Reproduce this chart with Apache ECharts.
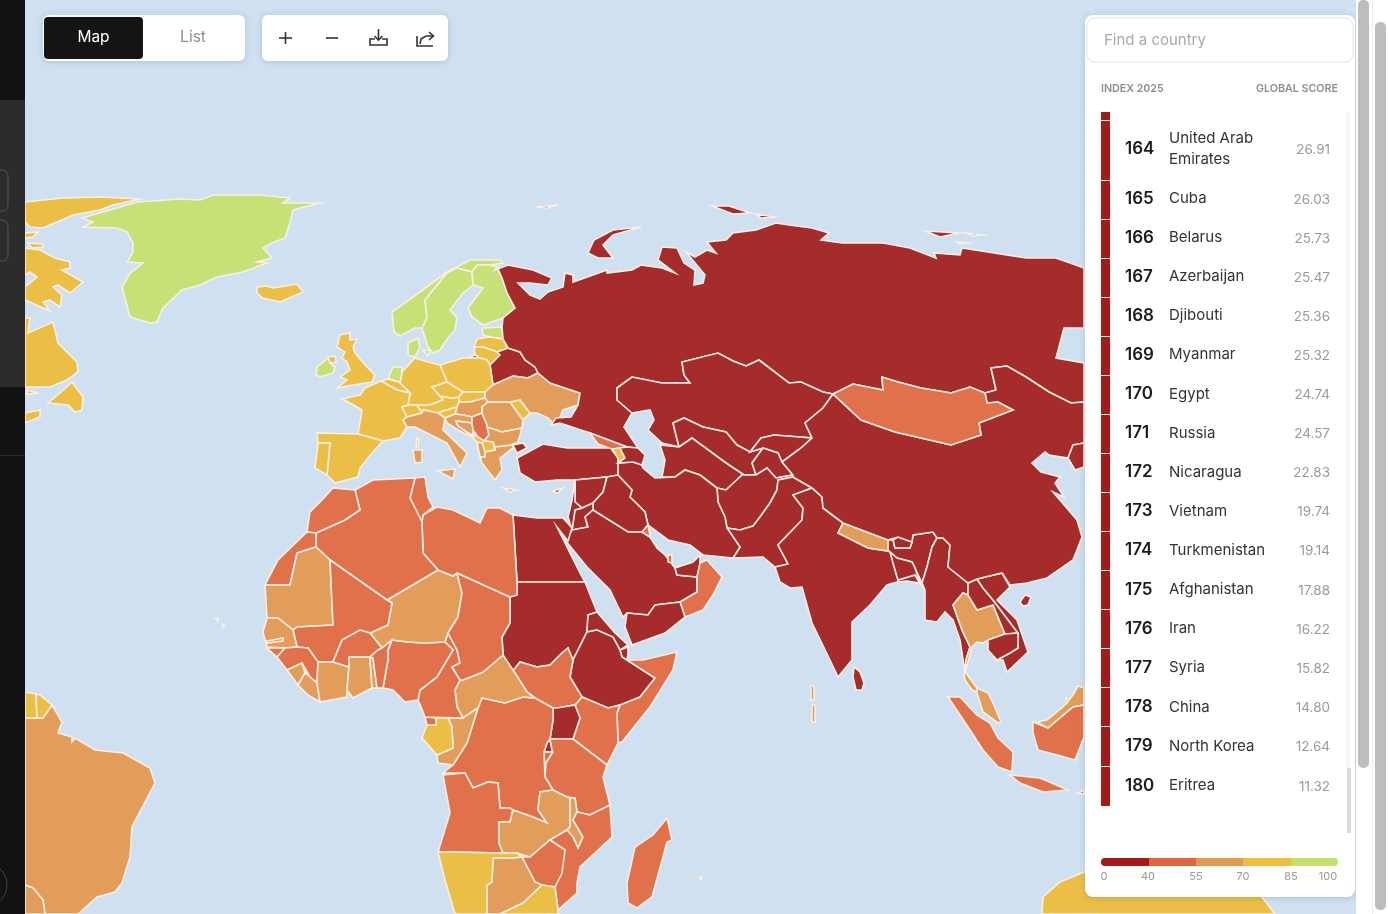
<!DOCTYPE html>
<html>
<head>
<meta charset="utf-8">
<title>Index 2025</title>
<style>html,body{margin:0;padding:0;background:#cfe1f0}#main{width:1388px;height:914px}</style>
<script src="https://cdn.jsdelivr.net/npm/echarts@6/dist/echarts.min.js"></script>
</head>
<body>
<div id="main"></div>
<script>
// ranking shown in the side panel
var ranks = [164,165,166,167,168,169,170,171,172,173,174,175,176,177,178,179,180];
var names = ['United Arab Emirates','Cuba','Belarus','Azerbaijan','Djibouti','Myanmar','Egypt','Russia','Nicaragua','Vietnam','Turkmenistan','Afghanistan','Iran','Syria','China','North Korea','Eritrea'];
var scores = [26.91,26.03,25.73,25.47,25.36,25.32,24.74,24.57,22.83,19.74,19.14,17.88,16.22,15.82,14.80,12.64,11.32];
var rowY = [149,198.5,237.5,276.5,315.5,354.5,394,433,472,511,550,589.5,628.5,667.5,707,746,785.5];

// legend
var legendStops = [0,40,55,70,85,100];
var legendColors = ['#a31b18','#e0663f','#e39a4e','#edbe3f','#c2e06b'];
var mapColors = ['#a52c2b','#e0714b','#e19d59','#ebbe46','#c6e276'];

// score bands of the other countries, estimated from the map colours
var darkCountries = {'Kazakhstan':29,'Uzbekistan':32,'Kyrgyzstan':36,'Tajikistan':29,'Pakistan':33,'India':32,'Bangladesh':33,'Bhutan':37,'Laos':27,'Cambodia':33,'Turkey':31,'Iraq':29,'Jordan':38,'Levant':35,'Saudi Arabia':27,'Yemen':28,'Sudan':29,'Ethiopia':30,'Uganda':35,'Rwanda':30,'Sri Lanka':38,'Kaliningrad':24,'Brunei':38};
var redCountries = {'Georgia':50,'Mongolia':52,'Kuwait':48,'Qatar':50,'Oman':46,'Serbia':52,'Algeria':41,'Tunisia':48,'Libya':44,'Morocco':46,'Western Sahara':42,'Mali':48,'Chad':46,'Nigeria':46,'Cameroon':43,'Equatorial Guinea':44,'Burkina Faso':50,'Benin':52,'Guinea':50,'Guinea-Bissau':50,'South Sudan':42,'DR Congo':44,'Burundi':42,'Tanzania':52,'Kenya':49,'Somalia':43,'Angola':50,'Mozambique':50,'Zimbabwe':50,'Madagascar':53,'Indonesia':44};
var orangeCountries = {'Ukraine':62,'Romania':68,'Bulgaria':60,'Hungary':65,'Italy':69,'Croatia':66,'Bosnia':60,'Albania':58,'Greece':56,'Mauritania':62,'Niger':60,'Senegal':64,'Gambia':62,'Sierra Leone':60,'Liberia':61,'Ivory Coast':62,'Ghana':66,'Togo':58,'CAR':56,'Congo':58,'Zambia':62,'Malawi':60,'Botswana':62,'Brazil':63,'Bolivia':58,'Thailand':56,'Nepal':58,'Malaysia':56,'Maldives':60,'Cabo Verde':68,'Seychelles':65};
var yellowCountries = {'Canada':78,'UK':78,'Northern Ireland':78,'Iceland':82,'France':76,'Spain':77,'Portugal':84,'Germany':83,'Poland':75,'Austria':78,'Czechia':81,'Slovakia':72,'Slovenia':74,'Switzerland':83,'Belgium':81,'Latvia':78,'Lithuania':82,'Moldova':73,'North Macedonia':71,'Montenegro':71,'Armenia':72,'Gabon':71,'Namibia':76,'South Africa':75,'Suriname':72,'French Guiana':76,'Australia':77,'Corsica':76};
var greenCountries = {'Greenland':92,'Norway':92,'Sweden':88,'Finland':87,'Denmark':86,'Estonia':89,'Netherlands':88,'Ireland':86};

// outlines, "x,y" per vertex
var outlines = {
'Greenland':['82,218 110,210 137,202 180,199 200,200 213,195 260,195 290,198 283,203 320,203 293,210 290,223 287,232 285,238 272,243 263,248 272,258 257,262 267,263 243,272 217,277 200,285 182,290 163,308 157,322 150,323 130,317 122,287 130,273 143,263 127,262 133,252 133,243 127,232 117,228 83,227 93,222'],
'Iceland':['257,287 267,286 273,288 297,284 303,292 280,302 263,298 257,293'],
'Canada':['25,202 63,198 100,197 140,199 113,205 100,210 73,215 57,222 43,228 30,227 25,222','25,233 38,232 33,237 25,238','28,243 43,244 43,247 32,248','25,248 40,250 55,258 70,262 70,268 62,270 83,282 70,293 58,285 53,287 62,295 60,307 50,300 43,302 50,311 25,300 25,287 37,277 30,272 25,275','25,318 30,318 28,333 53,322 58,343 77,362 78,372 67,380 50,387 25,387','72,382 83,397 82,410 75,412 68,405 48,403 60,393','25,413 40,410 40,417 25,423','27,390 37,393 27,394'],
'Ireland':['317,367 328,358 332,365 335,367 333,373 320,377 316,375'],
'Northern Ireland':['328,357 335,356 336,362 330,363'],
'UK':['340,335 350,333 350,340 357,339 353,347 355,353 367,367 375,375 372,382 353,385 337,388 347,380 340,377 350,370 347,362 342,358 345,352 337,347'],
'Norway':['392,312 413,297 447,272 470,260 500,260 503,263 490,265 477,265 472,272 457,268 447,273 425,300 427,318 422,328 415,328 400,336 394,332'],
'Sweden':['447,273 457,268 472,272 473,285 463,293 450,310 457,318 455,330 448,338 440,350 433,353 428,347 422,328 427,318 425,300'],
'Finland':['477,265 490,265 497,267 502,278 507,293 515,308 503,318 483,325 472,317 468,308 480,292 483,288 473,285 472,272'],
'Denmark':['408,343 418,338 420,347 415,357 408,355','423,350 430,350 428,356'],
'Estonia':['482,328 502,327 503,339 490,337 483,335'],
'Latvia':['474,347 477,339 490,337 503,339 508,348 497,352 483,347'],
'Lithuania':['474,347 483,347 497,352 500,355 490,365 487,360 480,358 475,355'],
'Kaliningrad':['468,358 475,355 480,358'],
'Belarus':['490,365 500,355 497,352 508,348 520,352 525,360 535,367 538,373 528,378 513,376 493,385'],
'Poland':['440,365 463,358 480,358 487,360 490,365 493,385 485,392 463,392 447,382'],
'Germany':['415,358 428,362 440,365 447,382 432,387 440,396 443,400 430,405 417,405 408,405 410,393 400,383 402,372'],
'Netherlands':['388,378 393,367 402,367 402,372 400,383 399,382'],
'Belgium':['381,381 388,379 399,382 400,383 410,393 397,390'],
'France':['342,399 360,395 365,388 381,381 397,390 410,393 408,405 402,407 407,417 403,420 407,427 400,438 383,441 358,434 362,410 350,403'],
'Corsica':['417,438 419,440 418,447 416,447'],
'Switzerland':['402,407 408,405 417,405 422,413 407,417'],
'Austria':['417,405 430,405 443,400 440,396 452,398 459,397 459,402 457,407 443,411 438,413 423,410 422,413'],
'Czechia':['432,387 447,382 463,392 459,397 452,398 440,396'],
'Slovakia':['459,397 463,392 485,392 485,398 470,402 459,402'],
'Hungary':['457,407 459,402 470,402 485,398 488,402 482,407 482,413 472,417 463,415 455,414'],
'Slovenia':['438,413 443,411 457,407 455,414 445,418'],
'Italy':['403,420 407,417 422,413 423,410 438,413 445,418 443,430 467,453 460,467 447,443 427,433 415,427 407,427','438,471 455,469 453,479','413,450 422,450 422,462 415,463'],
'Spain':['317,433 358,434 383,441 372,453 360,468 358,477 335,483 327,475 330,443 318,443'],
'Portugal':['318,443 330,443 327,475 315,468'],
'Croatia':['445,418 455,414 463,415 472,417 472,423 456,421 458,426 470,434 478,437 470,436 458,430 447,423'],
'Bosnia':['456,421 472,423 473,430 473,437 470,434 458,426'],
'Serbia':['472,417 482,413 487,425 489,435 484,441 478,437 473,430 472,423'],
'Romania':['482,407 488,402 510,402 523,420 522,428 502,432 487,427 487,425 482,413'],
'Moldova':['510,402 520,400 530,413 523,420'],
'Bulgaria':['487,427 502,432 522,428 518,442 503,448 495,447 493,442 484,441 489,435'],
'North Macedonia':['484,441 493,442 495,450 485,452 482,443'],
'Albania':['477,442 482,443 485,452 485,457 480,457'],
'Montenegro':['470,434 478,437 484,441 482,443 477,442'],
'Greece':['480,457 485,457 485,452 495,450 495,447 513,445 513,448 500,458 502,470 495,480 482,463','503,488 517,490 510,492'],
'Ukraine':['485,392 493,385 513,376 528,378 538,373 550,383 580,393 578,405 563,410 560,417 555,425 548,418 537,413 530,413 520,400 510,402 488,402 485,398'],
'Russia':['495,270 508,265 533,270 552,278 548,285 530,283 518,283 530,295 540,299 548,292 563,287 565,273 573,275 573,282 607,270 607,273 632,270 641,265 662,268 675,273 658,260 662,247 677,248 684,263 695,270 694,285 703,283 705,275 686,252 695,257 707,250 716,253 707,242 726,240 733,233 756,230 776,223 789,225 812,228 829,233 821,240 842,243 883,243 910,248 936,258 934,253 960,255 962,248 1026,258 1056,258 1084,268 1084,328 1064,328 1056,358 1084,363 1084,402 1071,403 1049,392 1026,377 1007,366 991,368 996,390 985,393 970,387 951,393 921,388 898,382 882,377 883,390 853,384 833,394 823,392 801,382 789,383 759,360 746,366 733,361 718,353 682,362 684,375 690,383 662,383 632,377 617,388 617,400 632,413 624,427 638,448 627,447 590,433 560,423 551,425 556,418 571,417 578,405 580,393 550,383 538,373 535,367 525,360 520,352 508,348 503,339 502,327 503,318 515,308 507,293 502,278 497,267','588,253 594,240 613,230 641,227 613,235 603,245 613,258 598,258','712,206 729,206 750,213 733,214','756,214 774,217 761,218','925,231 959,233 940,237','966,233 983,235 974,236','957,242 968,243 960,244','536,207 558,205 547,208'],
'Kazakhstan':['833,394 823,408 805,423 812,438 774,435 761,438 750,452 737,445 726,432 703,427 684,418 673,423 679,447 662,443 648,430 654,420 650,410 632,413 617,400 617,388 632,377 662,383 690,383 684,375 682,362 718,353 733,361 746,366 759,360 789,383 801,382 823,392'],
'Uzbekistan':['673,423 684,418 703,427 726,432 737,445 750,452 763,448 752,463 756,475 744,475 726,463 692,438 679,447'],
'Turkmenistan':['679,447 692,438 726,463 744,475 742,475 726,490 717,488 700,475 685,470 675,477 662,477 665,460 660,445'],
'Kyrgyzstan':['761,438 774,435 812,438 801,448 782,462 778,453 763,448 750,452'],
'Tajikistan':['752,463 763,448 778,453 782,462 793,475 776,478 767,468 756,475'],
'Afghanistan':['717,488 726,490 742,475 744,475 756,475 767,468 776,478 793,475 793,477 778,480 777,490 770,503 760,517 753,526 740,530 727,528 725,517 718,502'],
'Pakistan':['727,528 740,530 753,526 760,517 770,503 777,490 778,480 793,477 812,488 793,495 803,508 802,520 778,545 788,564 775,567 763,557 733,558 740,547'],
'Iran':['618,463 633,462 642,465 643,468 655,478 675,477 685,470 700,475 717,488 718,502 725,517 727,528 740,547 733,558 703,555 690,545 668,540 648,525 645,512 630,497 632,490 618,475'],
'Turkey':['517,458 532,450 543,444 567,448 587,448 612,448 612,450 618,458 618,475 607,477 575,480 557,480 535,482 520,473','513,445 523,443 527,448 517,453'],
'Georgia':['590,433 627,447 620,448 612,449 598,444'],
'Armenia':['612,449 620,448 625,458 618,463 618,458'],
'Azerbaijan':['627,447 638,448 645,455 642,465 633,462 618,463 625,458 620,448'],
'Syria':['575,480 607,477 603,492 593,503 582,508 575,502','553,491 563,488 557,493'],
'Iraq':['607,477 618,475 632,490 630,497 645,512 648,525 642,532 628,532 593,510 593,503 603,492'],
'Jordan':['575,510 582,508 593,503 593,510 585,517 588,527 572,530'],
'Levant':['575,480 575,502 582,508 575,510 572,530 568,517 572,500'],
'Saudi Arabia':['572,530 588,527 585,517 593,510 628,532 642,532 650,537 657,548 665,555 675,568 677,575 697,577 697,592 680,602 655,605 648,615 627,613 623,617 610,590 587,567 565,540'],
'Kuwait':['642,532 648,525 650,535 650,537'],
'Qatar':['668,555 672,555 672,563 668,562'],
'United Arab Emirates':['675,568 693,562 700,555 700,565 697,577 677,575'],
'Oman':['700,563 707,560 722,577 713,595 703,610 685,617 680,602 697,592 697,577'],
'Yemen':['627,613 648,615 655,605 680,602 685,617 665,633 632,645 625,627'],
'Egypt':['513,515 537,518 563,518 572,528 568,541 557,527 580,573 585,582 517,582'],
'Sudan':['517,582 585,582 597,612 588,615 587,632 573,660 568,648 562,653 550,665 537,667 520,662 512,672 503,655 502,637 510,623 510,597 517,595'],
'Eritrea':['588,615 597,612 615,633 628,645 620,650 613,637 597,630 587,632'],
'Djibouti':['620,650 628,647 628,655 627,660 622,657'],
'Ethiopia':['587,632 597,630 613,637 620,650 622,657 627,660 655,678 640,697 620,705 608,708 582,697 570,677 573,660'],
'Somalia':['627,660 643,660 677,652 673,670 650,707 622,742 618,743 617,713 620,705 640,697 655,678'],
'Kenya':['582,697 608,708 620,705 617,713 618,743 607,765 573,739 580,718 575,705'],
'South Sudan':['512,672 520,662 537,667 550,665 562,653 568,648 573,660 570,677 582,697 575,705 557,708 553,708 535,698 527,692 515,673'],
'Uganda':['553,708 557,708 575,705 580,718 573,739 550,739 553,720'],
'Rwanda':['544,752 547,743 550,739 552,750 553,752'],
'Burundi':['544,752 553,752 546,763 545,772'],
'Tanzania':['550,739 573,739 607,765 603,777 610,805 590,815 577,812 575,798 567,797 553,790 545,777 546,763 553,752 552,750'],
'DR Congo':['482,698 505,703 523,697 535,698 553,708 553,720 550,739 547,743 544,752 545,777 553,790 540,792 538,810 547,823 533,817 513,810 510,808 500,808 498,783 488,782 473,788 465,773 443,773 453,765 467,743 478,708'],
'CAR':['455,690 460,680 463,680 483,672 503,655 515,673 527,692 535,698 523,697 505,703 482,698 478,708 463,718 457,707'],
'Congo':['448,718 463,718 478,708 467,743 453,765 438,763 437,755 453,748 452,727'],
'Gabon':['436,718 448,718 452,727 453,748 437,755 422,738 427,725 436,725'],
'Equatorial Guinea':['425,717 436,718 436,725 427,725'],
'Cameroon':['445,642 453,650 437,677 420,690 418,700 419,702 425,717 463,718 457,707 455,690 460,680 452,667 460,663 457,650 448,633'],
'Nigeria':['392,640 408,642 425,643 445,642 453,650 437,677 420,690 418,700 405,702 393,690 383,688 388,660 388,650'],
'Niger':['387,600 438,570 453,576 457,573 462,593 458,617 448,633 445,642 425,643 408,642 392,640 382,648 370,633 388,625 392,603'],
'Chad':['457,573 510,597 510,623 502,637 503,655 483,672 463,680 460,680 452,667 460,663 457,650 448,633 458,617 462,593'],
'Libya':['423,515 437,507 453,510 480,523 487,508 500,508 513,515 517,582 517,595 510,597 457,573 453,576 438,570 423,553 422,522'],
'Tunisia':['415,478 425,477 428,497 433,507 423,515 422,522 410,498'],
'Algeria':['355,490 373,480 415,478 410,498 422,522 423,553 438,570 387,600 330,560 316,547 316,533 345,520 360,510'],
'Morocco':['333,488 355,490 360,510 345,520 316,533 307,532 310,512 322,500'],
'Western Sahara':['307,532 316,533 316,547 297,553 290,585 265,585 278,560'],
'Mauritania':['265,585 290,585 297,553 316,547 330,560 333,625 297,627 293,630 278,618 267,618'],
'Mali':['330,560 387,600 392,603 388,625 370,633 360,630 342,640 333,662 318,662 308,648 297,647 293,630 297,627 333,625'],
'Senegal':['263,632 267,618 278,618 293,630 297,647 285,648 267,647'],
'Gambia':['267,641 283,638 283,641 267,643'],
'Guinea-Bissau':['267,648 285,648 277,657'],
'Guinea':['277,657 285,648 297,647 308,648 318,662 317,683 310,677 302,663 287,670'],
'Sierra Leone':['287,670 302,663 305,673 298,685'],
'Liberia':['298,685 305,673 310,677 317,683 320,702 308,695'],
'Ivory Coast':['318,662 333,662 349,667 347,690 347,697 320,702 317,683'],
'Burkina Faso':['333,662 342,640 360,630 370,633 382,648 378,650 370,657 349,657 349,667'],
'Ghana':['349,657 370,657 372,688 353,698 347,690 349,667'],
'Togo':['370,657 373,658 377,688 372,688'],
'Benin':['370,657 378,650 382,648 392,640 388,650 388,660 383,688 377,688 373,658'],
'Angola':['443,775 465,773 473,788 488,782 498,783 500,808 510,808 513,810 510,822 499,822 499,843 503,853 450,852 438,852 450,813'],
'Zambia':['540,792 553,790 567,797 570,798 570,827 567,830 550,840 530,857 517,853 503,853 499,843 499,822 510,822 513,810 533,817 547,823 538,810'],
'Malawi':['570,798 575,798 577,812 573,820 583,837 578,848 573,837 567,830 570,827'],
'Mozambique':['610,805 612,837 580,867 577,883 577,893 558,910 555,887 565,850 550,840 567,830 573,837 578,848 583,837 573,820 577,812 590,815'],
'Zimbabwe':['522,857 530,857 550,840 565,850 562,873 555,887 542,885 535,882'],
'Botswana':['493,858 510,858 522,857 535,882 542,885 523,903 500,914 487,914 487,885 492,882'],
'Namibia':['438,852 450,852 503,853 517,853 522,857 510,858 493,858 492,882 487,885 487,914 455,914 445,880'],
'South Africa':['500,914 523,903 542,885 555,887 558,910 558,914'],
'Madagascar':['667,818 672,840 667,842 652,897 637,908 628,903 627,883 635,847 653,835'],
'Maldives':['811,686 814,686 814,700 811,700','812,705 815,705 815,722 812,722'],
'Cabo Verde':['215,618 218,618 218,621','222,624 225,625 223,628'],
'Seychelles':['699,877 702,877 701,880'],
'Sri Lanka':['854,667 860,672 864,683 862,690 856,690 853,677'],
'India':['793,495 812,488 822,497 823,508 843,523 838,533 868,548 888,551 890,552 897,558 893,563 898,580 908,577 915,575 920,583 913,582 907,581 897,582 887,585 870,605 852,622 852,660 838,677 830,660 812,623 802,587 790,588 780,582 775,567 788,564 778,545 802,520 803,508','888,551 888,540 893,540 895,548 910,548 912,542 913,535 933,532 937,538 932,547 927,567 922,583 915,568 912,562 897,558 890,552'],
'Bangladesh':['890,552 897,558 912,562 915,568 920,583 915,575 908,577 898,580 893,563'],
'Bhutan':['893,540 898,537 912,542 910,548 895,548'],
'Nepal':['838,533 843,523 888,540 888,551 868,548'],
'Myanmar':['932,547 937,538 943,538 950,545 948,567 968,583 968,595 963,593 953,605 962,630 970,647 966,660 965,672 960,640 953,620 945,612 937,622 925,620 925,590 922,583 927,567'],
'Thailand':['953,605 963,593 968,595 977,610 993,605 1005,634 988,640 983,643 977,642 972,647 968,662 965,672 977,688 983,694 972,690 965,680 964,675 966,660 970,647 962,630'],
'Malaysia':['977,688 988,693 993,703 1001,722 998,723 983,712 977,693','1037,722 1047,720 1063,707 1073,695 1078,686 1084,688 1084,705 1073,707 1048,728'],
'Laos':['968,583 977,579 983,588 993,600 1018,633 1005,634 993,605 977,610 968,595'],
'Vietnam':['977,579 1002,573 1010,587 997,600 1017,620 1028,652 1007,672 1003,660 997,660 1010,653 1018,648 1018,633 993,600 983,588'],
'Cambodia':['988,640 1005,634 1018,633 1018,648 1010,653 997,660 988,650'],
'China':['833,394 861,420 895,432 951,445 981,435 979,423 1013,410 998,402 987,403 985,393 996,390 991,368 1007,366 1026,377 1049,392 1071,403 1084,402 1084,443 1073,445 1068,458 1049,455 1045,452 1032,463 1041,472 1060,477 1055,483 1064,497 1053,492 1077,520 1082,537 1073,560 1047,578 1027,583 1010,585 1002,573 977,579 968,583 948,567 950,545 943,538 937,538 933,532 913,535 912,542 898,537 888,540 843,523 823,508 822,497 812,488 793,477 793,475 782,462 801,448 812,438 805,423 823,408','1020,602 1025,595 1031,597 1028,605 1023,606'],
'North Korea':['1084,443 1073,445 1068,458 1075,470 1084,467'],
'Mongolia':['833,394 853,384 883,390 882,377 898,382 921,388 951,393 970,387 985,393 987,403 998,402 1013,410 979,423 981,435 951,445 895,432 861,420'],
'Indonesia':['948,697 960,697 977,715 990,723 998,738 1013,752 1012,772 998,767 983,750 970,730','1010,775 1040,778 1068,790 1043,792 1020,783','1033,722 1048,728 1073,707 1084,705 1084,737 1075,760 1057,755 1038,750 1033,733','1078,793 1084,790 1084,794'],
'Brunei':['1066,698 1069,700 1067,703'],
'Brazil':['25,718 43,718 52,705 62,722 58,733 72,737 72,742 75,738 95,750 123,753 150,768 155,783 132,827 130,857 122,883 115,892 97,897 78,914 45,914 43,900 33,888 25,885'],
'Bolivia':['25,885 33,888 43,900 45,914 25,914'],
'Suriname':['25,692 36,694 37,718 25,718'],
'French Guiana':['36,694 40,695 52,705 43,718 37,718'],
'Australia':['1042,914 1043,897 1060,882 1084,872 1200,860 1262,897 1275,914']
};

function toFeature(name) {
    var polys = outlines[name].map(function (ring) {
        var pts = ring.split(' ').map(function (p) { return p.split(',').map(Number); });
        pts.push(pts[0]);
        return [pts];
    });
    return { type: 'Feature', properties: { name: name }, geometry: { type: 'MultiPolygon', coordinates: polys } };
}
echarts.registerMap('world', { type: 'FeatureCollection', features: Object.keys(outlines).map(toFeature) });

var mapData = [];
names.forEach(function (n, i) { mapData.push({ name: n, value: scores[i] }); });
[darkCountries, redCountries, orangeCountries, yellowCountries, greenCountries].forEach(function (group) {
    Object.keys(group).forEach(function (n) { mapData.push({ name: n, value: group[n] }); });
});

var pieces = mapColors.map(function (c, i) { return { min: legendStops[i], max: legendStops[i + 1], color: c }; });

// page furniture around the map
var els = [];
function rect(x, y, w, h, fill, r, extra) {
    els.push({ type: 'rect', z: 100, shape: { x: x, y: y, width: w, height: h, r: r || 0 }, style: Object.assign({ fill: fill }, extra || {}) });
}
function text(str, x, y, font, fill, align) {
    els.push({ type: 'text', z: 110, style: { text: str, x: x, y: y, font: font, fill: fill, align: align || 'left', verticalAlign: 'middle' } });
}
function line(points, color, w) {
    els.push({ type: 'polyline', z: 110, shape: { points: points }, style: { stroke: color, lineWidth: w || 1.6, fill: null } });
}
var FONT = 'Inter, "Liberation Sans", sans-serif';
var card = { shadowBlur: 6, shadowColor: 'rgba(60,80,110,0.22)', shadowOffsetY: 1 };

// left rail
rect(0, 0, 25, 914, '#121212');
rect(0, 100, 25, 287, '#2c2c2c');
rect(0, 455, 25, 1, '#2e2e2e');
rect(-20, 170, 28, 41, 'transparent', 6, { stroke: '#555', lineWidth: 1 });
rect(-20, 220, 28, 41, 'transparent', 6, { stroke: '#555', lineWidth: 1 });
els.push({ type: 'circle', z: 110, shape: { cx: -15, cy: 885, r: 22 }, style: { fill: 'transparent', stroke: '#444', lineWidth: 1 } });

// toolbar
rect(43, 15, 202, 46, '#fff', 6, card);
rect(44, 17, 99, 42, '#141414', 4);
text('Map', 93.5, 37.5, '15.5px ' + FONT, '#fff', 'center');
text('List', 193, 37.5, '15.5px ' + FONT, '#8e8e8e', 'center');
rect(262, 15, 186, 46, '#fff', 6, card);
line([[279, 38], [292, 38]], '#333');
line([[285.5, 32], [285.5, 44]], '#333');
line([[326, 38], [338, 38]], '#333');
line([[375, 39], [370, 39], [370, 45], [387, 45], [387, 39], [382, 39]], '#333');
line([[378.5, 29], [378.5, 40]], '#333');
line([[374.5, 36], [378.5, 40], [382.5, 36]], '#333');
line([[417, 36], [417, 46], [433, 46]], '#333');
line([[420, 44], [421, 39], [426, 36], [433, 36]], '#333');
line([[429, 32], [433.5, 36], [429, 40]], '#333');

// side panel
rect(1085, 15, 270, 882, '#fff', 8, card);
rect(1087, 18, 266, 44, '#fff', 8, { stroke: '#dfe3e6', lineWidth: 1 });
text('Find a country', 1104, 40.5, '15px ' + FONT, '#a9a9a9');
text('INDEX 2025', 1101, 88.5, '600 10.7px ' + FONT, '#8d8d8d');
text('GLOBAL SCORE', 1338, 88.5, '600 10.7px ' + FONT, '#8d8d8d', 'right');
rect(1346, 112, 4, 720, '#f7f7f7');
rect(1347, 768, 4, 65, '#dcdcdc');

// ranking rows
var stripTop = [112, 121, 181, 220, 259, 298, 337, 376, 415, 454, 493, 532, 571, 610, 649, 688, 727, 767];
var stripBottom = [120, 180, 219, 258, 297, 336, 375, 414, 453, 492, 531, 570, 609, 648, 687, 726, 766, 806];
stripTop.forEach(function (t, i) { rect(1101, t, 9, stripBottom[i] - t, legendColors[0]); });
ranks.forEach(function (r, i) {
    var y = rowY[i];
    text(String(r), 1125, y, '600 17px ' + FONT, '#1c1c1c');
    if (names[i] === 'United Arab Emirates') {
        text('United Arab', 1169, 138.5, '15px ' + FONT, '#333');
        text('Emirates', 1169, 159.5, '15px ' + FONT, '#333');
    } else {
        text(names[i], 1169, y, '15px ' + FONT, '#333');
    }
    text(scores[i].toFixed(2), 1330, y + 1, '13.5px ' + FONT, '#9a9a9a', 'right');
});

// colour legend
var legendX = [1101, 1149, 1196, 1243, 1291, 1338];
legendColors.forEach(function (c, i) {
    var r = i === 0 ? [4, 0, 0, 4] : (i === 4 ? [0, 4, 4, 0] : 0);
    rect(legendX[i], 858, legendX[i + 1] - legendX[i], 8, c, r);
});
var labelX = [1104, 1148, 1196, 1243, 1291, 1328];
legendStops.forEach(function (s, i) { text(String(s), labelX[i], 876.5, '11px ' + FONT, '#999', 'center'); });

// browser scrollbars
rect(1356, 0, 32, 914, '#fff');
rect(1372, 0, 1, 914, '#ededed');
rect(1358, 0, 11, 768, '#bdbdbd', 5);
rect(1375, 22, 11, 888, '#bdbdbd', 5);

var myChart = echarts.init(document.getElementById('main'));
var option = {
    backgroundColor: '#cfe1f0',
    animation: false,
    visualMap: { show: false, type: 'piecewise', seriesIndex: 0, pieces: pieces },
    graphic: { elements: els },
    series: [{
        type: 'map',
        map: 'world',
        silent: true,
        aspectScale: 1,
        projection: { project: function (p) { return p; }, unproject: function (p) { return p; } },
        boundingCoords: [[0, 0], [1388, 914]],
        left: 0, top: 0, width: 1388, height: 914,
        label: { show: false },
        emphasis: { disabled: true },
        select: { disabled: true },
        itemStyle: { borderColor: '#fbeee4', borderWidth: 1.6 },
        data: mapData
    }]
};
myChart.setOption(option);
</script>
</body>
</html>
